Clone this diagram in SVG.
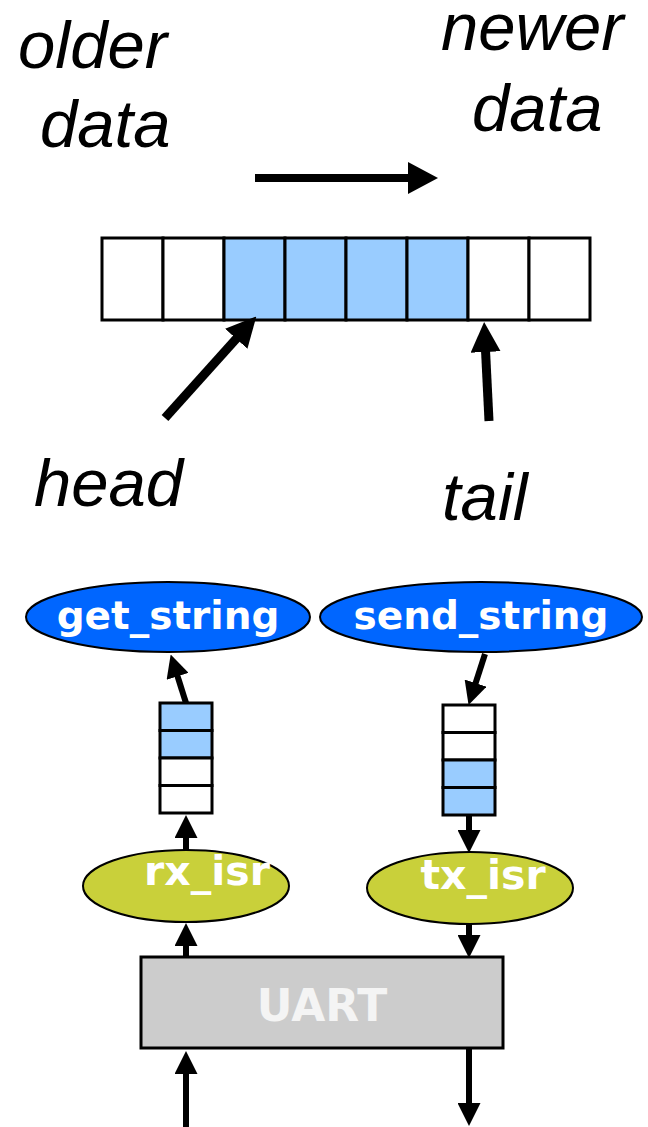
<svg xmlns="http://www.w3.org/2000/svg" width="648" height="1127" viewBox="0 0 648 1127">
<style>
.it{font-family:"Liberation Sans",Arial,sans-serif;font-style:italic;font-size:67px;fill:#000}
.lbl{font-family:"DejaVu Sans",Verdana,sans-serif;font-weight:bold;fill:#fff;text-anchor:middle}
.cell{stroke:#000;stroke-width:3}
.full{fill:#99CCFF}
.empty{fill:#fff}
.con{stroke:#000;fill:none}
</style>
<defs>
<marker id="big" markerUnits="userSpaceOnUse" markerWidth="30" markerHeight="32" refX="2" refY="16" orient="auto"><path d="M0,0 L30,16 L0,32 z" fill="#000"/></marker>
<marker id="mid" markerUnits="userSpaceOnUse" markerWidth="30" markerHeight="30" refX="2" refY="15" orient="auto"><path d="M0,0 L30,15 L0,30 z" fill="#000"/></marker>
<marker id="sm" markerUnits="userSpaceOnUse" markerWidth="23" markerHeight="23" refX="2" refY="11.5" orient="auto"><path d="M0,0 L23,11.5 L0,23 z" fill="#000"/></marker>
</defs>

<g id="labels">
<text class="it" x="18" y="68">older</text>
<text class="it" x="40" y="147">data</text>
<text class="it" x="441" y="50">newer</text>
<text class="it" x="472" y="131">data</text>
<text class="it" x="34" y="506">head</text>
<text class="it" x="442" y="520">tail</text>
</g>

<g id="buffer">
<rect class="cell empty" x="102" y="238" width="61" height="82"/>
<rect class="cell empty" x="163" y="238" width="61" height="82"/>
<rect class="cell full" x="224" y="238" width="61" height="82"/>
<rect class="cell full" x="285" y="238" width="61" height="82"/>
<rect class="cell full" x="346" y="238" width="61" height="82"/>
<rect class="cell full" x="407" y="238" width="61" height="82"/>
<rect class="cell empty" x="468" y="238" width="61" height="82"/>
<rect class="cell empty" x="529" y="238" width="61" height="82"/>
</g>

<g id="get_string">
<ellipse cx="168" cy="617" rx="142" ry="35" fill="#0066FF" stroke="#000" stroke-width="2"/>
<text class="lbl" x="168" y="629" font-size="39">get_string</text>
</g>
<g id="send_string">
<ellipse cx="481" cy="617" rx="161" ry="35" fill="#0066FF" stroke="#000" stroke-width="2"/>
<text class="lbl" x="481" y="629" font-size="39">send_string</text>
</g>

<g id="rx_queue">
<rect class="cell full" x="160" y="703" width="52" height="27.5"/>
<rect class="cell full" x="160" y="730.5" width="52" height="27.5"/>
<rect class="cell empty" x="160" y="758" width="52" height="27.5"/>
<rect class="cell empty" x="160" y="785.5" width="52" height="27.5"/>
</g>
<g id="tx_queue">
<rect class="cell empty" x="443" y="705" width="52" height="27.5"/>
<rect class="cell empty" x="443" y="732.5" width="52" height="27.5"/>
<rect class="cell full" x="443" y="760" width="52" height="27.5"/>
<rect class="cell full" x="443" y="787.5" width="52" height="27.5"/>
</g>

<g id="rx_isr">
<ellipse cx="186" cy="886" rx="103" ry="36" fill="#C9D03A" stroke="#000" stroke-width="2"/>
<text class="lbl" x="207" y="885" font-size="41">rx_isr</text>
</g>
<g id="tx_isr">
<ellipse cx="470" cy="888" rx="103" ry="36" fill="#C9D03A" stroke="#000" stroke-width="2"/>
<text class="lbl" x="483" y="889" font-size="41">tx_isr</text>
</g>

<g id="UART">
<rect x="141" y="957" width="362" height="91" fill="#CCCCCC" stroke="#000" stroke-width="3"/>
<text class="lbl" x="322" y="1021" font-size="44" style="fill:#F4F4F4">UART</text>
</g>

<g id="connectors">
<line class="con" x1="255" y1="178" x2="410" y2="178" stroke-width="8" marker-end="url(#big)"/>
<line class="con" x1="165" y1="418" x2="237.6" y2="337.3" stroke-width="9" marker-end="url(#mid)"/>
<line class="con" x1="489" y1="421" x2="485.5" y2="350" stroke-width="9" marker-end="url(#mid)"/>
<line class="con" x1="186" y1="703" x2="177" y2="674.5" stroke-width="6" marker-end="url(#sm)"/>
<line class="con" x1="485" y1="654" x2="475" y2="685" stroke-width="6" marker-end="url(#sm)"/>
<line class="con" x1="186" y1="850" x2="186" y2="836" stroke-width="6" marker-end="url(#sm)"/>
<line class="con" x1="469" y1="816" x2="469" y2="832" stroke-width="6" marker-end="url(#sm)"/>
<line class="con" x1="186" y1="957" x2="186" y2="944" stroke-width="6" marker-end="url(#sm)"/>
<line class="con" x1="469" y1="924" x2="469" y2="937" stroke-width="6" marker-end="url(#sm)"/>
<line class="con" x1="186" y1="1127" x2="186" y2="1072" stroke-width="6" marker-end="url(#sm)"/>
<line class="con" x1="469" y1="1049" x2="469" y2="1105" stroke-width="6" marker-end="url(#sm)"/>
</g>
</svg>
